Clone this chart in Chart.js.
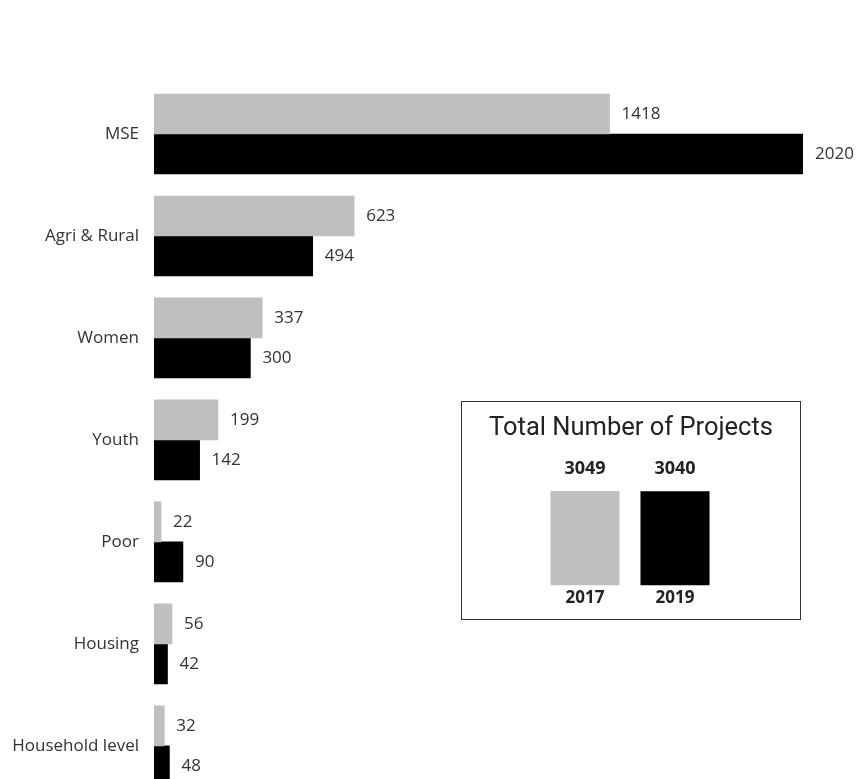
<!DOCTYPE html>
<html>
<head>
<meta charset="utf-8">
<script src="https://cdn.jsdelivr.net/npm/chart.js@4.4.0/dist/chart.umd.min.js"></script>
<style>
  body { margin: 0; overflow: hidden; background: #fff; }
  #wrap { position: relative; width: 856px; height: 779px; overflow: hidden; }
  #main-chart { position: absolute; left: 0; top: 0; }
  #totals-box {
    position: absolute; left: 461px; top: 401px;
    width: 338px; height: 217px;
    border: 1px solid #333; background: #fff;
  }
</style>
</head>
<body>
<div id="wrap">
  <canvas id="main-chart" width="856" height="822"></canvas>
  <div id="totals-box"><canvas id="totals-chart" width="338" height="217"></canvas></div>
</div>
<script>
var categories = ["MSE", "Agri & Rural", "Women", "Youth", "Poor", "Housing", "Household level"];
var values2017 = [1418, 623, 337, 199, 22, 56, 32];
var values2019 = [2020, 494, 300, 142, 90, 42, 48];

var totalYears = ["2017", "2019"];
var totalValues = [3049, 3040];
var totalsTitle = "Total Number of Projects";

var grey = "#bfbfbf";
var black = "#000000";
var textColor = "#333333";

// writes each bar's value just past its end
var barValueLabels = {
  id: "barValueLabels",
  afterDatasetsDraw: function (chart) {
    var ctx = chart.ctx;
    ctx.save();
    ctx.font = "17px 'Open Sans'";
    ctx.fillStyle = textColor;
    ctx.textAlign = "left";
    ctx.textBaseline = "middle";
    chart.data.datasets.forEach(function (ds, i) {
      chart.getDatasetMeta(i).data.forEach(function (bar, j) {
        ctx.fillText(ds.data[j], bar.x + 12, bar.y);
      });
    });
    ctx.restore();
  },
};

var ctx = document.getElementById("main-chart").getContext("2d");
var mainChart = new Chart(ctx, {
  type: "bar",
  data: {
    labels: categories,
    datasets: [
      { label: "2017", data: values2017, backgroundColor: grey, barThickness: 40 },
      { label: "2019", data: values2019, backgroundColor: black, barThickness: 40 },
    ],
  },
  options: {
    indexAxis: "y",
    responsive: false,
    animation: false,
    layout: { padding: { top: 83, right: 53, bottom: 0, left: 0 } },
    plugins: { legend: { display: false }, tooltip: { enabled: false } },
    scales: {
      x: { display: false, min: 0, max: 2020 },
      y: {
        grid: { display: false, drawTicks: false },
        border: { display: false },
        ticks: { color: textColor, font: { family: "'Open Sans'", size: 17 }, padding: 15 },
        afterFit: function (scale) {
          scale.width = 154;
        },
      },
    },
  },
  plugins: [barValueLabels],
});

// title plus the numbers above the two total bars
// (chart.js title would get squeezed by the side padding)
var totalsLabels = {
  id: "totalsLabels",
  afterDatasetsDraw: function (chart) {
    var ctx = chart.ctx;
    ctx.save();
    ctx.fillStyle = "#222";
    ctx.textAlign = "center";
    ctx.textBaseline = "middle";
    ctx.font = "25.5px Roboto";
    ctx.fillText(totalsTitle, chart.width / 2, 27);
    ctx.font = "bold 18px 'Open Sans'";
    chart.getDatasetMeta(0).data.forEach(function (bar, j) {
      ctx.fillText(totalValues[j], bar.x, bar.y - 22);
    });
    ctx.restore();
  },
};

var totalsCtx = document.getElementById("totals-chart").getContext("2d");
var totalsChart = new Chart(totalsCtx, {
  type: "bar",
  data: {
    labels: totalYears,
    datasets: [
      {
        data: totalValues,
        backgroundColor: [grey, black],
        barPercentage: 0.767,
        categoryPercentage: 1,
      },
    ],
  },
  options: {
    responsive: false,
    animation: false,
    layout: { padding: { top: 89, right: 80, bottom: 9, left: 78 } },
    plugins: { legend: { display: false }, tooltip: { enabled: false } },
    scales: {
      y: { display: false, min: 0, max: 3049 },
      x: {
        grid: { display: false, drawTicks: false },
        border: { display: false },
        ticks: { color: "#222", font: { family: "'Open Sans'", size: 17, weight: "bold" }, padding: 2 },
      },
    },
  },
  plugins: [totalsLabels],
});
</script>
</body>
</html>
